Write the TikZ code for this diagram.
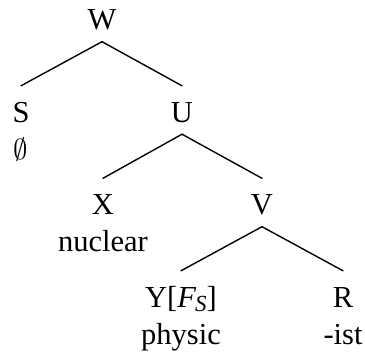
\documentclass[tikz,border=0pt]{standalone}
\usepackage{fontspec}
\setmainfont{Liberation Serif}
\begin{document}
\begin{tikzpicture}[x=0.5pt,y=-0.5pt,line cap=round,line join=round,line width=0.7pt,
		lbl/.style={inner sep=0pt,anchor=base,text height=10pt,text depth=0pt,font=\fontsize{15.25}{18.5}\selectfont},
		wrd/.style={inner sep=0pt,anchor=base,font=\fontsize{15.25}{18.5}\selectfont}]
	\useasboundingbox (0,0) rectangle (365,353);
	\def\dl{-18.5pt}
	\node[lbl] (W) at (102,30) {W};
	\node[lbl] (S) at (21,122.5) {S};
	\node[lbl] (U) at (182,122.5) {U};
	\node[lbl] (X) at (103,215) {X};
	\node[lbl] (V) at (262,215) {V};
	\node[lbl] (Y) at (181,307.5) {Y[\textit{F}\kern-0.5pt\raisebox{-2.2pt}{\fontsize{11.5}{12}\selectfont\textit{S}}]};
	\node[lbl] (R) at (343,307.5) {R};
	\node[wrd] (s0) at ([yshift=\dl]S.base) {$\emptyset$};
	\node[wrd] (x0) at ([yshift=\dl]X.base) {nuclear};
	\node[wrd] (y0) at ([yshift=\dl]Y.base) {physic};
	\node[wrd] (r0) at ([yshift=\dl]R.base) {-ist};
	\foreach \p/\c in {W/S,W/U,U/X,U/V,V/Y,V/R}{\draw ([yshift=-5.5pt]\p.south) -- ([yshift=8pt]\c.north);}
\end{tikzpicture}
\end{document}
